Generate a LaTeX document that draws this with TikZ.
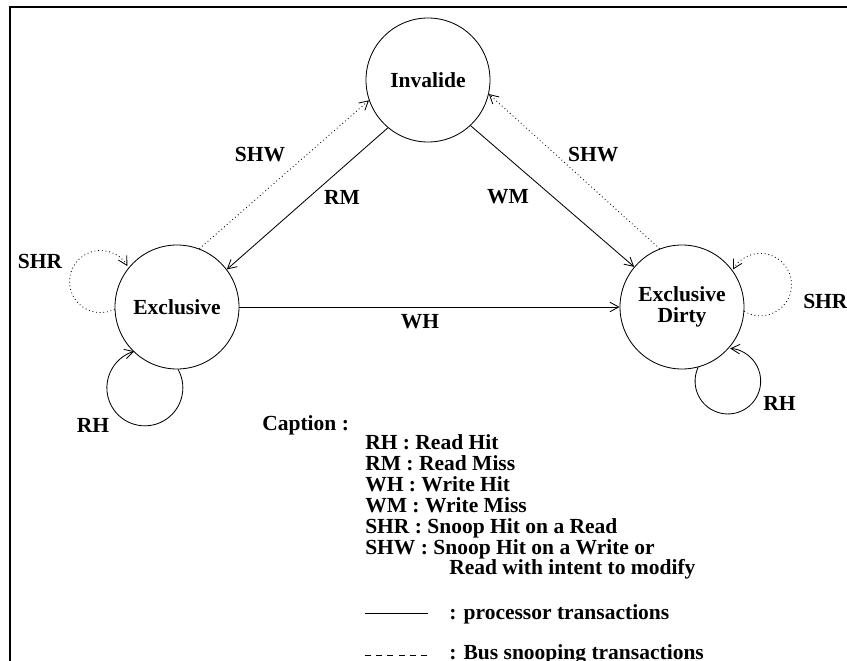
\documentclass[tikz,border=0pt]{standalone}
\usepackage{fontspec}
\setmainfont{Liberation Serif}
\usetikzlibrary{arrows.meta}

\begin{document}
\begin{tikzpicture}[
    every node/.style={font=\fontsize{15.3}{14.8}\selectfont\bfseries},
    state/.style={circle, draw, line width=0.6pt, minimum size=3.1cm, inner sep=0pt, align=center},
    proc/.style={-{Straight Barb[length=2.2mm, width=2.4mm]}, line width=0.6pt},
    bus/.style={proc, dotted},
    lbl/.style={inner sep=0pt}
]

% page size and clipping of the outer frame
\useasboundingbox (0,0) rectangle (21.175,16.5);
\clip (0,0) rectangle (21.175,16.5);
\draw[line width=1.6pt] (0.25,-1) rectangle (22,16.325);

% ============ STATES ============
\node[state] (inv) at (10.7, 14.5) {Invalide};
\node[state] (ex) at (4.425, 8.825) {Exclusive};
\node[state] (ed) at (17.05, 8.825) {Exclusive\\Dirty};

% ============ TRANSITIONS ============
% processor side
\draw[proc] (inv.-130) -- (ex.37);
\draw[proc] (inv.-47) -- (ed.140);
\draw[proc] (ex.east) -- (ed.west);

% snooping side
\draw[bus] (ex.69) -- (inv.-161);
\draw[bus] (ed.111) -- (inv.-13);

% self loops (round arcs back onto the same state)
\draw[bus] (ex.182) arc[start angle=-63, end angle=-330, radius=0.775];
\draw[proc] (ex.-89) arc[start angle=29, end angle=-254, radius=0.95];
\draw[bus] (ed.-4) arc[start angle=-121, end angle=151, radius=0.78];
\draw[proc] (ed.-75) arc[start angle=155, end angle=446, radius=0.82];

% transition labels
\node[lbl] (shw1) at (6.5, 12.625) {SHW};
\node[lbl] (rm) at (8.55, 11.575) {RM};
\node[lbl] (wm) at (12.7, 11.575) {WM};
\node[lbl] (shw2) at (14.83, 12.625) {SHW};
\node[lbl] (wh) at (10.5, 8.45) {WH};
\node[lbl] (shr1) at (1.0, 9.975) {SHR};
\node[lbl] (rh1) at (2.325, 5.875) {RH};
\node[lbl, anchor=west] (shr2) at (20.075, 8.975) {SHR};
\node[lbl, anchor=west] (rh2) at (19.075, 6.425) {RH};

% ============ CAPTION ============
\node[lbl, anchor=base west] (cap) at (6.55, 5.725) {Caption :};
\node[lbl, anchor=base west] (c1) at (9.125, 5.25) {RH : Read Hit};
\node[lbl, anchor=base west] (c2) at (9.125, 4.73) {RM : Read Miss};
\node[lbl, anchor=base west] (c3) at (9.125, 4.21) {WH : Write Hit};
\node[lbl, anchor=base west] (c4) at (9.125, 3.69) {WM : Write Miss};
\node[lbl, anchor=base west] (c5) at (9.125, 3.17) {SHR : Snoop Hit on a Read};
\node[lbl, anchor=base west] (c6) at (9.125, 2.65) {SHW : Snoop Hit on a Write or};
\node[lbl, anchor=base west] (c7) at (11.225, 2.13) {Read with intent to modify};

% line samples
\draw[line width=0.6pt] (9.125, 1.175) -- (10.7, 1.175);
\node[lbl, anchor=base west] (procdesc) at (11.225, 1.025) {: processor transactions};
\draw[line width=0.6pt, dash pattern=on 0.15cm off 0.13cm] (9.125, 0.125) -- (10.7, 0.125);
\node[lbl, anchor=base west] (busdesc) at (11.225, 0.025) {: Bus snooping transactions};

\end{tikzpicture}
\end{document}
